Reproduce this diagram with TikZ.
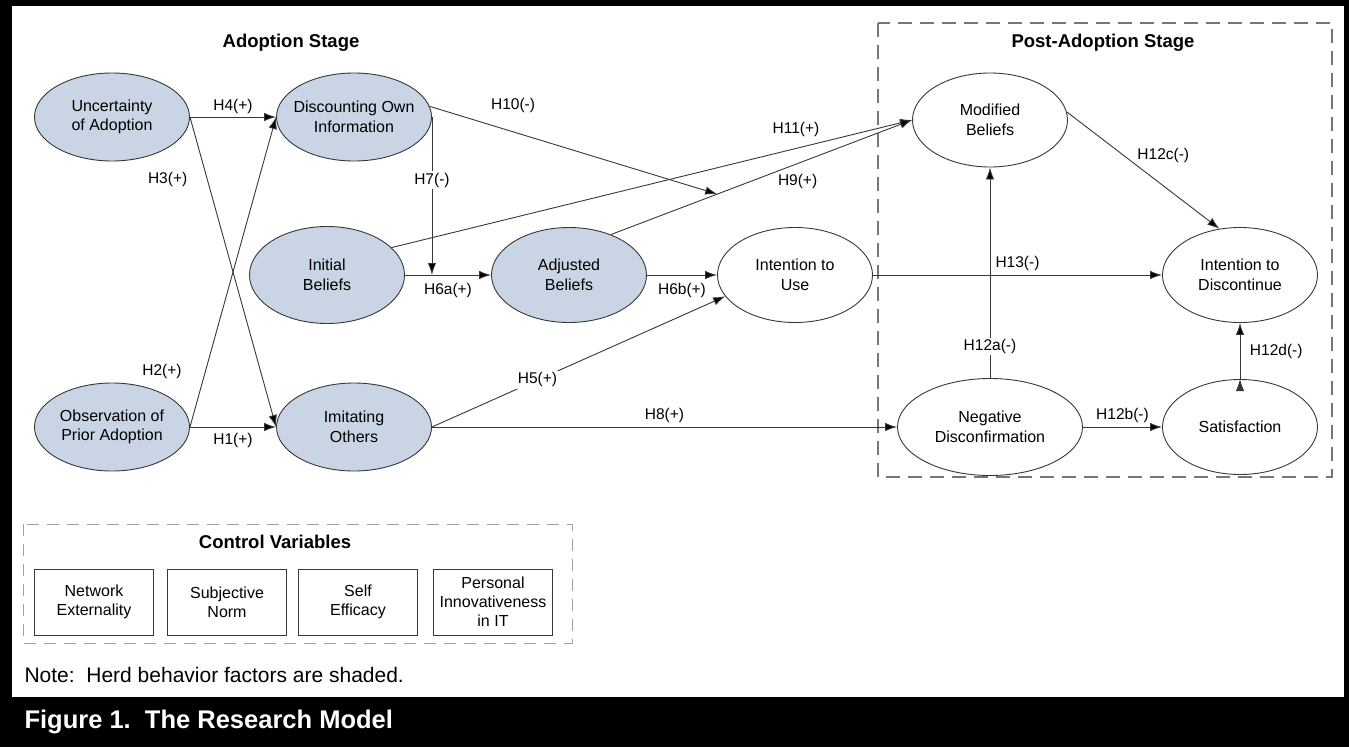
\documentclass[tikz,border=0pt]{standalone}
\usepackage{fontspec}
\setmainfont{Liberation Sans}
\usetikzlibrary{shapes.geometric, positioning, arrows.meta, calc}

\definecolor{herdfill}{RGB}{201,213,229}
\definecolor{rim}{RGB}{55,55,55}
\definecolor{dashgray}{RGB}{118,118,118}
\definecolor{lightdash}{RGB}{160,160,160}

\tikzset{
  construct/.style={ellipse, draw=rim, line width=0.9pt, minimum width=155pt,
    minimum height=95pt, align=center, inner sep=-8pt,
    font=\fontsize{16}{19.5}\selectfont},
  herd/.style={construct, fill=herdfill},
  hyp/.style={font=\fontsize{15.5}{18}\selectfont, inner sep=1.5pt},
  link/.style={-{Latex[length=12pt,width=8.5pt]}, draw=rim, line width=0.9pt},
  ctrl/.style={rectangle, draw=rim, line width=0.9pt, minimum width=119pt,
    minimum height=66pt, align=center, inner sep=0pt,
    font=\fontsize{16}{19}\selectfont},
  stage/.style={font=\bfseries\fontsize{18.5}{22}\selectfont},
}

\begin{document}
\begin{tikzpicture}[x=1pt, y=-1pt, node distance=242pt, on grid]
  \useasboundingbox (0,0) rectangle (1349,747);

  % frame and caption bar
  \fill[black] (0,0) rectangle (1349,6);
  \fill[black] (0,0) rectangle (12,697);
  \fill[black] (1344,0) rectangle (1349,697);
  \fill[black] (0,697) rectangle (1349,747);
  \node[anchor=west, text=white, font=\bfseries\fontsize{25.5}{29}\selectfont] (fig) at (21,722) {Figure 1.\ \ The Research Model};

  % stage boxes
  \draw[dashgray, line width=1.1pt, dash pattern=on 14pt off 8pt] (878,23) rectangle (1332,477);
  \node[stage] (adoption) at (291,43) {Adoption Stage};
  \node[stage] (post) at (1103,43) {Post-Adoption Stage};

  % adoption stage
  \node[herd, minimum height=88pt] (unc) at (112,117) {Uncertainty\\of Adoption};
  \node[herd, minimum height=88pt] (disc) [right=of unc] {Discounting Own\\Information};
  \node[herd, minimum height=97pt] (init) at (327,275) {Initial\\Beliefs};
  \node[herd] (adj) [right=of init] {Adjusted\\Beliefs};
  \node[construct] (itu) [right=226pt of adj] {Intention to\\Use};
  \node[herd, minimum height=88pt] (obs) at (112,427) {Observation of\\Prior Adoption};
  \node[herd, minimum height=88pt] (imit) [right=of obs] {Imitating\\Others};

  % post-adoption stage
  \node[construct, minimum height=94pt] (mod) at (990,120) {Modified\\Beliefs};
  \node[construct] (itd) at (1240,275) {Intention to\\Discontinue};
  \node[construct, minimum width=185pt, minimum height=97pt] (neg) at (990,427) {Negative\\Disconfirmation};
  \node[construct] (sat) [right=250pt of neg] {Satisfaction};

  \coordinate (h9mid) at ($(adj.44)!0.353!(mod.west)$);

  \path[link]
  (unc.east) edge node[hyp, above=1pt] {H4(+)} (disc.west)
    (unc.east) edge node[hyp, pos=0.2, left=18pt] {H3(+)} (imit.west)
  (obs.east) edge node[hyp, below=4pt] {H1(+)} (imit.west)
    (obs.east) edge node[hyp, pos=0.18, left=22pt] {H2(+)} (disc.west)
  (disc.east) edge node[hyp, fill=white, pos=0.4] {H7(-)} (disc.east |- init.east)
    (disc.8) edge node[hyp, pos=0.29, above=17pt] {H10(-)} (h9mid)
  (init.east) edge node[hyp, below=6pt] {H6a(+)} (adj.west)
    (init.23) edge node[hyp, pos=0.777, above=10pt] {H11(+)} (mod.west)
  (adj.east) edge node[hyp, below=6pt] {H6b(+)} (itu.west)
    (adj.44) edge node[hyp, pos=0.62, below=9pt] {H9(+)} (mod.west)
  (imit.east) edge node[hyp, fill=white, pos=0.36] {H5(+)} (itu.197)
    (imit.east) edge node[hyp, above=2pt] {H8(+)} (neg.west)
  (itu.east) edge node[hyp, above=2pt] {H13(-)} (itd.west)
  (mod.6) edge node[hyp, pos=0.45, anchor=south west] {H12c(-)} (itd.114)
  (neg.north) edge node[hyp, fill=white, pos=0.15] {H12a(-)} (mod.south)
    (neg.east) edge node[hyp, above=2pt] {H12b(-)} (sat.west)
  (sat.north) edge node[hyp, right=8pt] {H12d(-)} (itd.south);

  % control variables
  \draw[lightdash, line width=0.8pt, dash pattern=on 12pt off 8pt] (23,524) rectangle (572,643);
  \node[stage] (ctrltitle) at (275,542) {Control Variables};
  \node[ctrl] (netw) at (94,602) {Network\\Externality};
  \node[ctrl] (subj) [right=133pt of netw] {Subjective\\Norm};
  \node[ctrl] (self) [right=131pt of subj] {Self\\Efficacy};
  \node[ctrl] (pers) [right=135pt of self] {Personal\\Innovativeness\\in IT};

  \node[anchor=west, font=\fontsize{21}{25}\selectfont] (note) at (21,675) {Note:\ \ Herd behavior factors are shaded.};
\end{tikzpicture}
\end{document}
